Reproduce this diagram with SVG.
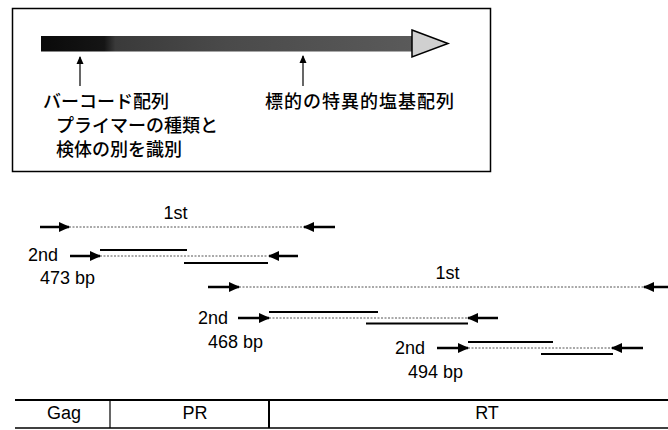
<svg xmlns="http://www.w3.org/2000/svg" width="668" height="430" viewBox="0 0 668 430">
<style>
.jp{font-family:"Noto Sans CJK JP","Noto Sans",sans-serif;font-size:18px;font-weight:500;fill:#000}
.lt{font-family:"Liberation Sans",Arial,sans-serif;font-size:18px;fill:#000}
.pr{stroke:#000;stroke-width:2.5;fill:none}
.dot{stroke:#555;stroke-width:1;stroke-dasharray:2 1.5;fill:none}
.thk{stroke:#000;stroke-width:2.2;fill:none}
.up{stroke:#000;stroke-width:1.2;fill:none}
.bar{stroke:#000;fill:none}
</style>
<defs>
<marker id="ah" markerUnits="userSpaceOnUse" markerWidth="12" markerHeight="10" refX="10" refY="5" orient="auto">
<path d="M0,0 L11,5 L0,10 Z" fill="#000"/>
</marker>
<marker id="au" markerUnits="userSpaceOnUse" markerWidth="8" markerHeight="8" refX="7" refY="4" orient="auto">
<path d="M0,0.5 L8,4 L0,7.5 Z" fill="#000"/>
</marker>
<linearGradient id="g" x1="0" y1="0" x2="1" y2="0">
<stop offset="0" stop-color="#0a0a0a"/>
<stop offset="0.17" stop-color="#151515"/>
<stop offset="0.2" stop-color="#3a3a3a"/>
<stop offset="0.5" stop-color="#4a4a4a"/>
<stop offset="1" stop-color="#5a5a5a"/>
</linearGradient>
</defs>

<g id="legend">
<rect x="12.5" y="8.5" width="478" height="163" fill="#fff" stroke="#000" stroke-width="1.5"/>
<rect x="41" y="36" width="372" height="15.5" fill="url(#g)"/>
<path d="M412,30 L448,43.5 L412,57 Z" fill="#d0d0d0" stroke="#000" stroke-width="1.5"/>
</g>
<g id="barcode">
<line class="up" x1="80" y1="86" x2="80" y2="57" marker-end="url(#au)"/>
<text class="jp" x="43" y="108">バーコード配列</text>
<text class="jp" x="56" y="132">プライマーの種類と</text>
<text class="jp" x="56" y="156">検体の別を識別</text>
</g>
<g id="target">
<line class="up" x1="303" y1="86" x2="303" y2="56" marker-end="url(#au)"/>
<text class="jp" x="265" y="108" letter-spacing="1">標的の特異的塩基配列</text>
</g>

<g id="connectors">
<!-- set 1 -->
<line class="pr" x1="40" y1="227" x2="69" y2="227" marker-end="url(#ah)"/>
<line class="dot" x1="69" y1="227" x2="305" y2="227"/>
<line class="pr" x1="335" y1="227" x2="304" y2="227" marker-end="url(#ah)"/>
<line class="pr" x1="70" y1="256" x2="100" y2="256" marker-end="url(#ah)"/>
<line class="thk" x1="100" y1="250" x2="187" y2="250"/>
<line class="dot" x1="100" y1="256" x2="268" y2="256"/>
<line class="thk" x1="184" y1="263" x2="268" y2="263"/>
<line class="pr" x1="298" y1="256" x2="269" y2="256" marker-end="url(#ah)"/>
<!-- set 2 -->
<line class="pr" x1="208" y1="287" x2="239" y2="287" marker-end="url(#ah)"/>
<line class="dot" x1="239" y1="287" x2="645" y2="287"/>
<line class="pr" x1="672" y1="287" x2="644" y2="287" marker-end="url(#ah)"/>
<line class="pr" x1="238" y1="318" x2="269" y2="318" marker-end="url(#ah)"/>
<line class="thk" x1="269" y1="312" x2="378" y2="312"/>
<line class="dot" x1="269" y1="318" x2="468" y2="318"/>
<line class="thk" x1="366" y1="323.5" x2="468" y2="323.5"/>
<line class="pr" x1="498" y1="318" x2="468" y2="318" marker-end="url(#ah)"/>
<!-- set 3 -->
<line class="pr" x1="437" y1="348" x2="468" y2="348" marker-end="url(#ah)"/>
<line class="thk" x1="468" y1="342" x2="553" y2="342"/>
<line class="dot" x1="468" y1="348" x2="612" y2="348"/>
<line class="thk" x1="541" y1="354" x2="613" y2="354"/>
<line class="pr" x1="643" y1="348" x2="612" y2="348" marker-end="url(#ah)"/>
</g>

<g id="labels">
<text class="lt" x="175.5" y="219" text-anchor="middle">1st</text>
<text class="lt" x="28" y="261">2nd</text>
<text class="lt" x="40" y="284">473 bp</text>
<text class="lt" x="447.5" y="279" text-anchor="middle">1st</text>
<text class="lt" x="198" y="324">2nd</text>
<text class="lt" x="208" y="348">468 bp</text>
<text class="lt" x="395" y="354">2nd</text>
<text class="lt" x="408" y="378">494 bp</text>
</g>

<g id="genome">
<line class="bar" x1="15" y1="400" x2="668" y2="400" stroke-width="2"/>
<line class="bar" x1="15" y1="428" x2="668" y2="428" stroke-width="1.5"/>
<line class="bar" x1="110" y1="400" x2="110" y2="428" stroke-width="1.2"/>
<line class="bar" x1="269" y1="400" x2="269" y2="428" stroke-width="2"/>
<text class="lt" x="64" y="419" text-anchor="middle">Gag</text>
<text class="lt" x="195" y="419" text-anchor="middle">PR</text>
<text class="lt" x="487" y="419" text-anchor="middle">RT</text>
</g>
</svg>
